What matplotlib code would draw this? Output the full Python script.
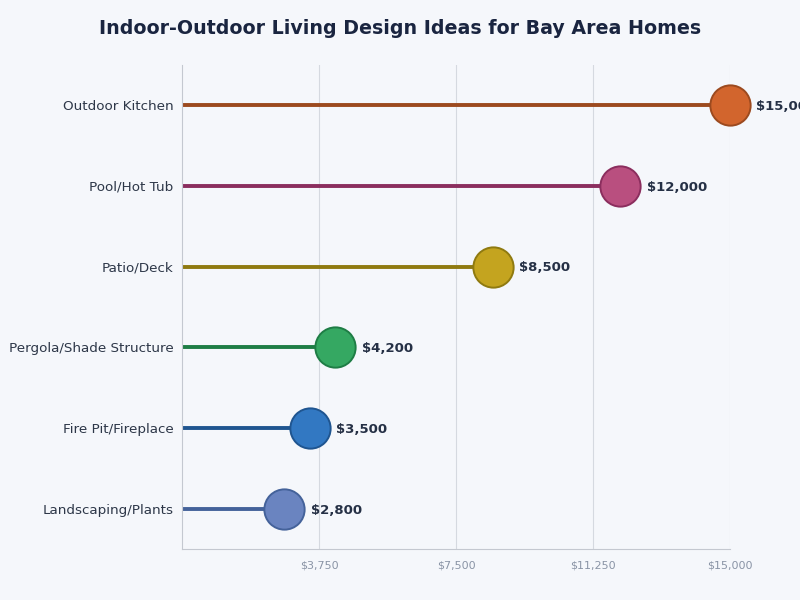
"""Lollipop chart: indoor-outdoor living design ideas by cost."""

import matplotlib

matplotlib.use("Agg")
import matplotlib.pyplot as plt  # noqa: E402
from matplotlib.ticker import FuncFormatter  # noqa: E402

categories = [
    "Landscaping/Plants",
    "Fire Pit/Fireplace",
    "Pergola/Shade Structure",
    "Patio/Deck",
    "Pool/Hot Tub",
    "Outdoor Kitchen",
]
costs = [2800, 3500, 4200, 8500, 12000, 15000]
fill_colors = ["#6A84C0", "#3278C2", "#35A862", "#C4A41F", "#B94F7F", "#D2652D"]
line_colors = ["#44629A", "#1F5590", "#1E7D45", "#8F7A10", "#8B2E5E", "#9C4A1F"]
x_ticks = [3750, 7500, 11250, 15000]

BG = "#F5F7FB"

fig = plt.figure(figsize=(8, 6), dpi=100, facecolor=BG)
ax = fig.add_axes([0.2275, 0.085, 0.685, 0.807], facecolor=BG)

for i, (cat, val) in enumerate(zip(categories, costs)):
    ax.plot([0, val], [i, i], color=line_colors[i], lw=2.8, solid_capstyle="butt", zorder=2)
    ax.plot(val, i, "o", ms=29, mfc=fill_colors[i], mec=line_colors[i], mew=1.4,
            zorder=3, clip_on=False)
    # the reference lets the top label run past the figure edge
    ax.annotate(f"${val:,}", (val, i), xytext=(19, -1), textcoords="offset points",
                va="center", ha="left", fontsize=9.5, fontweight="bold",
                color="#253045", annotation_clip=False, zorder=4)

ax.set_yticks(range(len(categories)))
ax.set_yticklabels(categories, fontsize=9.7, color="#2D3748")
ax.set_xticks(x_ticks)
ax.xaxis.set_major_formatter(FuncFormatter(lambda v, _: f"${v:,.0f}"))
ax.tick_params(axis="x", labelsize=8, colors="#8A94A6", length=0, pad=8)
ax.tick_params(axis="y", length=0, pad=6)
ax.set_xlim(0, 15000)
ax.set_ylim(-0.5, 5.5)
ax.grid(axis="x", color="#D5D9E0", lw=0.8, zorder=0)
ax.set_axisbelow(True)
for side in ("top", "right"):
    ax.spines[side].set_visible(False)
for side in ("left", "bottom"):
    ax.spines[side].set_color("#C4C8D0")

fig.text(0.5, 0.953, "Indoor-Outdoor Living Design Ideas for Bay Area Homes",
         ha="center", va="center", fontsize=13.7, fontweight="bold", color="#1A2540")

fig.savefig("out.png", dpi=100, facecolor=BG)
